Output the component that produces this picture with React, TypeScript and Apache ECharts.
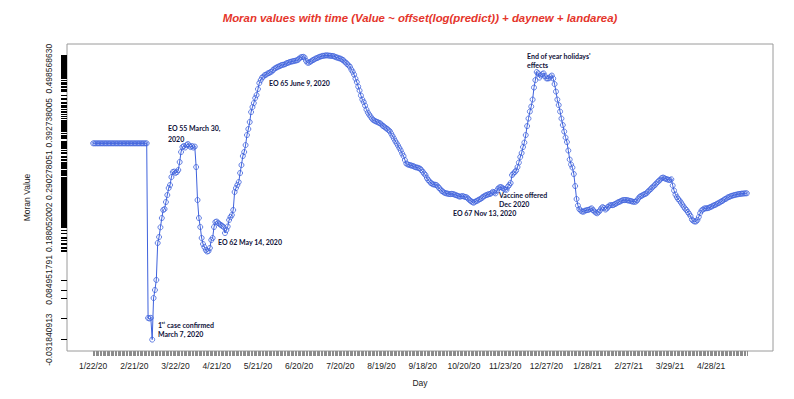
import React, { useEffect, useRef } from "react";
import * as echarts from "echarts";

// Moran value for each day (index 0 = 1/22/20)
const values: number[] = [
  0.3524, 0.3524, 0.3524, 0.3524, 0.3524, 0.3524, 0.3524, 0.3524, 0.3524, 0.3524,
  0.3524, 0.3524, 0.3524, 0.3524, 0.3524, 0.3524, 0.3524, 0.3524, 0.3524, 0.3524,
  0.3524, 0.3524, 0.3524, 0.3524, 0.3524, 0.3524, 0.3524, 0.3524, 0.3524, 0.3524,
  0.3524, 0.3524, 0.3524, 0.3524, 0.3524, 0.3524, 0.3524, 0.3524, 0.3524, 0.3524,
  0.0105, 0.0095, 0.0109, -0.031840913, 0.0496, 0.0653, 0.084951791, 0.1573, 0.169, 0.188052002,
  0.2062, 0.2219, 0.2238, 0.2375, 0.2512, 0.2649, 0.2708, 0.2864, 0.2962, 0.2972,
  0.2943, 0.2962, 0.3001, 0.3158, 0.3354, 0.3451, 0.3471, 0.3442, 0.349, 0.351,
  0.3481, 0.3451, 0.3471, 0.3442, 0.3461, 0.306, 0.2414, 0.2062, 0.1886, 0.1671,
  0.1553, 0.1495, 0.1436, 0.1406, 0.1416, 0.1475, 0.1631, 0.1671, 0.1886, 0.1984,
  0.1993, 0.1964, 0.1945, 0.1925, 0.1906, 0.1886, 0.1768, 0.1827, 0.1896, 0.2023,
  0.2081, 0.2121, 0.2219, 0.2571, 0.2649, 0.2708, 0.2766, 0.2943, 0.3099, 0.3275,
  0.3354, 0.349, 0.3686, 0.3804, 0.3941, 0.4136, 0.4234, 0.4312, 0.441, 0.4469,
  0.4586, 0.4704, 0.4762, 0.4811, 0.4831, 0.486, 0.487, 0.489, 0.4899, 0.4919,
  0.4929, 0.4958, 0.49856863, 0.4997, 0.5017, 0.5027, 0.5036, 0.5056, 0.506, 0.5066,
  0.5076, 0.5095, 0.5101, 0.5115, 0.5121, 0.5128, 0.5134, 0.514, 0.5148, 0.5154,
  0.5183, 0.5203, 0.5213, 0.5218, 0.5203, 0.514, 0.5105, 0.5101, 0.5121, 0.5134,
  0.5154, 0.5168, 0.5183, 0.5193, 0.5207, 0.5218, 0.5226, 0.5236, 0.5238, 0.5244,
  0.5246, 0.5244, 0.524, 0.5238, 0.5234, 0.5232, 0.522, 0.5207, 0.5201, 0.5189,
  0.5183, 0.517, 0.5154, 0.5125, 0.5105, 0.5076, 0.505, 0.5023, 0.4968, 0.4925,
  0.487, 0.4792, 0.4723, 0.4635, 0.4557, 0.4459, 0.4381, 0.4332, 0.4263, 0.4185,
  0.4127, 0.4087, 0.4048, 0.4009, 0.398, 0.3966, 0.395, 0.3941, 0.392738005, 0.3915,
  0.3892, 0.3866, 0.3847, 0.3827, 0.3808, 0.3784, 0.3761, 0.3716, 0.3667, 0.3618,
  0.3569, 0.3524, 0.3481, 0.3432, 0.3383, 0.3324, 0.3275, 0.3197, 0.3129, 0.3113,
  0.3103, 0.3095, 0.3087, 0.308, 0.3064, 0.3054, 0.305, 0.304, 0.303, 0.3001,
  0.2968, 0.2933, 0.290278051, 0.2845, 0.2806, 0.2776, 0.2747, 0.2727, 0.2718, 0.2714,
  0.2708, 0.2678, 0.2649, 0.262, 0.259, 0.2571, 0.2555, 0.2545, 0.2541, 0.2532,
  0.253, 0.2535, 0.2532, 0.2522, 0.2512, 0.2502, 0.2492, 0.2479, 0.2487, 0.2492,
  0.2483, 0.2473, 0.2467, 0.2444, 0.2414, 0.2395, 0.2375, 0.2361, 0.2379, 0.2395,
  0.2404, 0.2424, 0.2434, 0.2453, 0.2479, 0.2492, 0.2508, 0.2518, 0.2528, 0.2532,
  0.2551, 0.2575, 0.2561, 0.2545, 0.26, 0.2643, 0.2663, 0.2669, 0.2649, 0.2635,
  0.262, 0.2614, 0.2675, 0.2708, 0.2747, 0.2903, 0.2933, 0.2962, 0.2991, 0.306,
  0.3148, 0.3256, 0.3334, 0.3451, 0.3539, 0.3686, 0.3862, 0.4009, 0.4146, 0.4244,
  0.4381, 0.4616, 0.4762, 0.4919, 0.4894, 0.4811, 0.4851, 0.488, 0.4894, 0.4841,
  0.4796, 0.4793, 0.4798, 0.4831, 0.4851, 0.4792, 0.4684, 0.4537, 0.4381, 0.4273,
  0.4146, 0.4009, 0.3882, 0.3755, 0.3637, 0.3549, 0.3383, 0.3207, 0.3109, 0.305,
  0.2923, 0.2688, 0.2434, 0.2307, 0.2238, 0.2209, 0.2189, 0.2185, 0.2205, 0.2213,
  0.2219, 0.2224, 0.2238, 0.2252, 0.2217, 0.2189, 0.217, 0.2154, 0.2179, 0.2209,
  0.2252, 0.2277, 0.2258, 0.2228, 0.2248, 0.2283, 0.2306, 0.2316, 0.2314, 0.2318,
  0.2336, 0.235, 0.2365, 0.2379, 0.2389, 0.2404, 0.2414, 0.2413, 0.2415, 0.241,
  0.2404, 0.2398, 0.2391, 0.2381, 0.238, 0.2382, 0.2404, 0.2444, 0.2479, 0.2492,
  0.2508, 0.2522, 0.2535, 0.2547, 0.258, 0.2604, 0.2629, 0.2659, 0.2682, 0.2708,
  0.2737, 0.2766, 0.2792, 0.2815, 0.2845, 0.2855, 0.2841, 0.2829, 0.2819, 0.281,
  0.2806, 0.282, 0.2698, 0.26, 0.2522, 0.2473, 0.2434, 0.2404, 0.2365, 0.2326,
  0.2283, 0.2248, 0.2219, 0.2179, 0.2144, 0.2101, 0.2033, 0.2007, 0.1993, 0.1994,
  0.2023, 0.2081, 0.216, 0.2209, 0.2228, 0.2248, 0.2252, 0.2253, 0.2258, 0.2271,
  0.2283, 0.2297, 0.231, 0.232, 0.2336, 0.235, 0.2365, 0.2379, 0.2395, 0.2414,
  0.243, 0.2444, 0.2463, 0.2473, 0.2487, 0.2496, 0.2504, 0.2512, 0.2518, 0.2524,
  0.253, 0.2534, 0.2538, 0.2541, 0.2543, 0.2545, 0.2546,
];

// days absent from the daily record
const missingDays: string[] = [
  "9/26/20", "10/10/20", "10/31/20", "11/1/20", "11/11/20", "11/14/20",
  "11/26/20", "12/5/20", "12/19/20", "12/25/20", "1/1/21", "1/9/21",
];

const xTickLabels: string[] = [
  "1/22/20", "2/21/20", "3/22/20", "4/21/20", "5/21/20", "6/20/20", "7/20/20", "8/19/20",
  "9/18/20", "10/20/20", "11/23/20", "12/27/20", "1/28/21", "2/27/21", "3/29/21", "4/28/21",
];

const yTickLabels: number[] = [
  -0.031840913, 0.084951791, 0.188052002, 0.290278051, 0.392738005, 0.49856863,
];

const titleText = "Moran values with time (Value ~ offset(log(predict)) + daynew + landarea)";

function buildDates(n: number): string[] {
  const out: string[] = [];
  const d = new Date(Date.UTC(2020, 0, 22));
  while (out.length < n) {
    const s = `${d.getUTCMonth() + 1}/${d.getUTCDate()}/${String(d.getUTCFullYear()).slice(2)}`;
    if (!missingDays.includes(s)) out.push(s);
    d.setUTCDate(d.getUTCDate() + 1);
  }
  return out;
}

const dates = buildDates(values.length);

const BLUE = "#3f62dc";
const AXIS_FONT = "'Liberation Sans', Arial, sans-serif";
const NOTE_FONT = "Lato, 'Open Sans', sans-serif";

function note(text: string, x: number, y: number, size = 7) {
  return {
    type: "text",
    x,
    y,
    silent: true,
    style: {
      text,
      fill: "#10123a",
      fontSize: size,
      fontWeight: "bold",
      fontFamily: NOTE_FONT,
      align: "left",
      verticalAlign: "middle",
    },
  };
}

export default function App() {
  const ref = useRef<HTMLDivElement>(null);

  useEffect(() => {
    if (!ref.current) return;
    const chart = echarts.init(ref.current, undefined, { renderer: "svg" });
    const n = values.length;
    const vMin = Math.min(...values);
    const vMax = Math.max(...values);
    const vPad = (vMax - vMin) * 0.04;
    const xPad = (n - 1) * 0.04;
    const xIdx = dates.map((_, i) => i);
    const labelIdx = xTickLabels.map((l) => dates.indexOf(l)).filter((i) => i >= 0);

    const option: any = {
      animation: false,
      backgroundColor: "#ffffff",
      grid: {
        left: 67,
        right: 21,
        top: 44,
        bottom: 48,
        show: true,
        borderColor: "#9a9a9a",
        borderWidth: 1,
        containLabel: false,
        outerBoundsMode: "none",
      },
      xAxis: {
        type: "value",
        min: -xPad,
        max: n - 1 + xPad,
        name: "Day",
        nameLocation: "middle",
        nameGap: 27,
        nameTextStyle: { fontFamily: AXIS_FONT, fontSize: 8.5, color: "#222" },
        axisLine: { show: false, onZero: false },
        axisTick: {
          show: true,
          customValues: xIdx,
          length: 5,
          lineStyle: { color: "#8c8c8c", width: 1 },
        },
        axisLabel: {
          customValues: labelIdx,
          formatter: (v: number) => dates[Math.round(v)] ?? "",
          fontFamily: AXIS_FONT,
          fontSize: 8.5,
          color: "#222",
          margin: 10,
          hideOverlap: false,
        },
        splitLine: { show: false },
      },
      yAxis: {
        type: "value",
        min: vMin - vPad,
        max: vMax + vPad,
        name: "Moran Value",
        nameLocation: "middle",
        nameGap: 36,
        nameTextStyle: { fontFamily: AXIS_FONT, fontSize: 8.5, color: "#222" },
        axisLine: { show: false, onZero: false },
        axisTick: {
          show: true,
          customValues: values,
          length: 6,
          lineStyle: { color: "#000", width: 1 },
        },
        axisLabel: {
          customValues: yTickLabels,
          rotate: 90,
          formatter: (v: number) => v.toFixed(9),
          fontFamily: AXIS_FONT,
          fontSize: 8.5,
          color: "#222",
          margin: 14,
          hideOverlap: false,
        },
        splitLine: { show: false },
      },
      series: [
        {
          type: "line",
          data: values.map((v, i) => [i, v]),
          symbol: "circle",
          symbolSize: 5,
          showSymbol: true,
          showAllSymbol: true,
          lineStyle: { color: BLUE, width: 1 },
          itemStyle: { color: "rgba(255,255,255,0)", borderColor: BLUE, borderWidth: 0.8 },
          z: 3,
        },
      ],
      graphic: [
        {
          type: "text",
          x: 420,
          y: 18,
          silent: true,
          style: {
            text: titleText,
            fill: "#e5352b",
            fontSize: 11.4,
            fontStyle: "italic",
            fontWeight: "bold",
            fontFamily: AXIS_FONT,
            align: "center",
            verticalAlign: "middle",
          },
        },
        note("EO 55 March 30,", 168, 128),
        note("2020", 168, 139),
        note("EO 62 May 14, 2020", 218, 242),
        note("1", 158, 325),
        note("st", 161.6, 322.3, 4.5),
        note("case confirmed", 167, 325),
        note("March 7, 2020", 158, 334),
        note("EO 65 June 9, 2020", 269, 83),
        note("End of year holidays'", 527, 56),
        note("effects", 527, 65),
        note("Vaccine offered", 499, 194.5),
        note("Dec 2020", 499, 203.5),
        note("EO 67 Nov 13, 2020", 453, 212.5),
      ],
    };

    chart.setOption(option);
    return () => chart.dispose();
  }, []);

  return (
    <div
      ref={ref}
      style={{ position: "fixed", left: 0, top: 0, width: 794, height: 399, background: "#fff" }}
    />
  );
}
